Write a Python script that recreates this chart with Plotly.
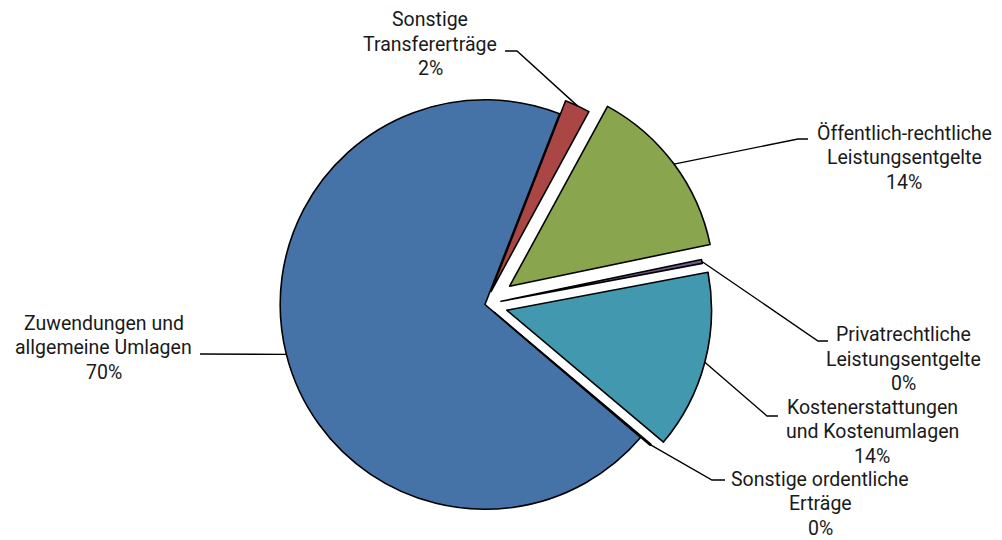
import math
import plotly.graph_objects as go

# ---- data ----
categories = [
    "Zuwendungen und<br>allgemeine Umlagen",
    "Sonstige<br>Transfererträge",
    "Öffentlich-rechtliche<br>Leistungsentgelte",
    "Privatrechtliche<br>Leistungsentgelte",
    "Kostenerstattungen<br>und Kostenumlagen",
    "Sonstige ordentliche<br>Erträge",
]
values = [69.7, 2.0, 13.8, 0.3, 14.1, 0.1]

# ---- style / layout ----
pulls = [0.0, 0.07, 0.15, 0.08, 0.11, 0.06]
colors = ["#4572A7", "#AA4643", "#89A54E", "#71588F", "#4198AF", "#DB843D"]
W, H = 1002, 540
ROTATION = 130.44
DOMAIN_X = [0.184, 0.784]
DOMAIN_Y = [0.0, 0.8722]
FONT = "Roboto"
FONT_SIZE = 19.5
LINE_GAP = 24.5

# label block centres, attach points and elbows (pixels)
label_pos = [(103.5, 347.7), (430, 44), (904, 157.7), (903, 359.0), (872, 431.5), (820, 503.5)]
attach_pt = [(200, 354), (505, 51), (808, 139), (828, 341), (778, 416), (725, 480)]
elbow_pt = [(200, 354), (517, 51), (798, 139), (818, 341), (767, 416), (712, 480)]

fig = go.Figure(go.Pie(
    labels=[c.replace("<br>", " ") for c in categories],
    values=values,
    sort=False,
    direction="clockwise",
    rotation=ROTATION,
    pull=pulls,
    marker=dict(colors=colors, line=dict(color="black", width=1.6)),
    textinfo="none",
    hoverinfo="label+percent",
    domain=dict(x=DOMAIN_X, y=DOMAIN_Y),
    showlegend=False,
))

# geometry replicating plotly's pie layout (margins are zero)
rx = W * (DOMAIN_X[1] - DOMAIN_X[0]) / 2
ry = H * (DOMAIN_Y[1] - DOMAIN_Y[0]) / 2
r = min(rx, ry) / (1 + max(pulls))
cx = W * (DOMAIN_X[0] + DOMAIN_X[1]) / 2
cy = H * (1 - DOMAIN_Y[0]) - ry

total = sum(values)
ang = ROTATION
shapes = []
annotations = []
for i, v in enumerate(values):
    span = v / total * 360
    mid = math.radians(ang + span / 2)
    ang += span
    dx, dy = math.sin(mid), -math.cos(mid)
    ax = cx + pulls[i] * r * dx + r * dx
    ay = cy + pulls[i] * r * dy + r * dy
    ex, ey = elbow_pt[i]
    tx, ty = attach_pt[i]
    path = f"M {ax/W},{1-ay/H} L {ex/W},{1-ey/H} L {tx/W},{1-ty/H}"
    shapes.append(dict(type="path", xref="paper", yref="paper", path=path,
                       line=dict(color="black", width=1.4)))
    pct = round(v / total * 100)
    lines = categories[i].split("<br>") + [f"{pct}%"]
    lx, ly = label_pos[i]
    n = len(lines)
    for k, txt in enumerate(lines):
        yy = ly + (k - (n - 1) / 2) * LINE_GAP
        annotations.append(dict(
            x=lx / W, y=1 - yy / H, xref="paper", yref="paper",
            text=txt, showarrow=False, borderpad=0,
            xanchor="center", yanchor="middle", align="center",
            font=dict(family=FONT, size=FONT_SIZE, color="#1a1a1a"),
        ))

fig.update_layout(
    width=W, height=H,
    margin=dict(l=0, r=0, t=0, b=0),
    paper_bgcolor="white", plot_bgcolor="white",
    shapes=shapes, annotations=annotations,
)

fig.write_html("out.html", config={"displayModeBar": False},
               post_script="document.body.style.margin='0';")
